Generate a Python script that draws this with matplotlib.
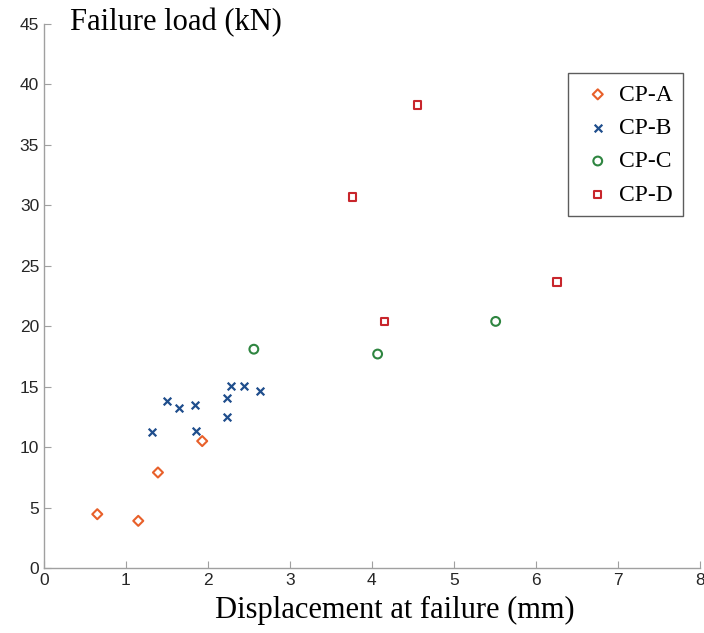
import matplotlib.pyplot as plt

# --- dados ---
cpa_x = [0.65, 1.15, 1.39, 1.93]
cpa_y = [4.45, 3.9, 7.9, 10.5]

cpb_x = [1.32, 1.50, 1.65, 1.84, 1.86, 2.23, 2.23, 2.28, 2.44, 2.64]
cpb_y = [11.25, 13.8, 13.25, 13.45, 11.35, 14.05, 12.5, 15.05, 15.05, 14.65]

cpc_x = [2.56, 4.07, 5.51]
cpc_y = [18.1, 17.7, 20.4]

cpd_x = [3.76, 4.56, 4.15, 6.26]
cpd_y = [30.7, 38.3, 20.4, 23.65]

x_ticks = list(range(0, 9))
y_ticks = list(range(0, 50, 5))

serif = 'Liberation Serif'

fig = plt.figure(figsize=(7.04, 6.33), dpi=100)
ax = fig.add_axes([0.0625, 0.1027, 0.9315, 0.8593])

ax.scatter(cpa_x, cpa_y, marker='D', s=26, facecolors='none', edgecolors='#E8602A',
           linewidths=1.5, label='CP-A')
ax.scatter(cpb_x, cpb_y, marker='x', s=30, color='#1F4E8C', linewidths=1.6, label='CP-B')
ax.scatter(cpc_x, cpc_y, marker='o', s=40, facecolors='none', edgecolors='#2E8540',
           linewidths=1.5, label='CP-C')
ax.scatter(cpd_x, cpd_y, marker='s', s=28, facecolors='none', edgecolors='#C8262C',
           linewidths=1.5, label='CP-D')

ax.set_xlim(0, 8)
ax.set_ylim(0, 45)
ax.set_xticks(x_ticks)
ax.set_yticks(y_ticks)

for s in ['top', 'right']:
    ax.spines[s].set_visible(False)
for s in ['left', 'bottom']:
    ax.spines[s].set_color('#A0A0A0')
    ax.spines[s].set_linewidth(1.0)
ax.tick_params(direction='in', length=5, color='#A0A0A0', labelsize=12.5,
               labelcolor='#262626')
for lbl in ax.get_xticklabels() + ax.get_yticklabels():
    lbl.set_fontfamily('Liberation Sans')

fig.text(0.561, 0.035, 'Displacement at failure (mm)', fontsize=22, family=serif,
         ha='center', va='center')
fig.text(0.1, 0.965, 'Failure load (kN)', fontsize=22, family=serif, va='center')

leg = ax.legend(loc='upper right', bbox_to_anchor=(0.993, 0.931), prop={'family': serif, 'size': 17},
                frameon=True, fancybox=False, edgecolor='#333333', borderpad=0.45,
                labelspacing=0.5, handletextpad=0.1, handlelength=1.6, scatterpoints=1)
leg.get_frame().set_linewidth(1.0)

fig.savefig('out.png', dpi=100)
